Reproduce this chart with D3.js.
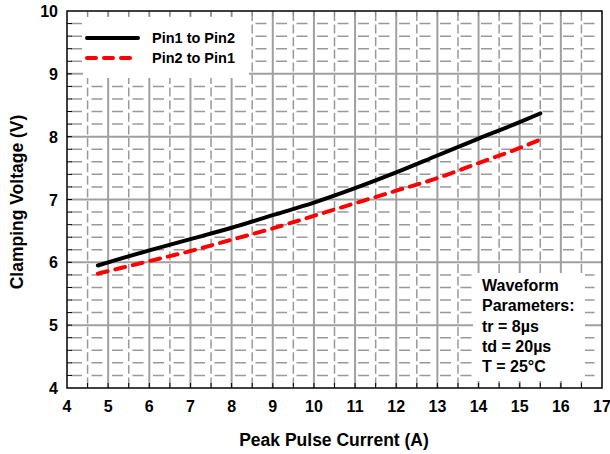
<!DOCTYPE html>
<html><head><meta charset="utf-8">
<script src="https://cdn.jsdelivr.net/npm/d3@7"></script>
<style>body{margin:0;background:#fff}svg{display:block}text{font-family:"Liberation Sans",Arial,sans-serif;font-weight:bold;fill:#000}</style>
</head><body>
<svg id="c" width="610" height="454"></svg>
<script>
const xTicks = [4,5,6,7,8,9,10,11,12,13,14,15,16,17];
const yTicks = [4,5,6,7,8,9,10];
const seriesNames = ["Pin1 to Pin2","Pin2 to Pin1"];
const currentA = [4.75,5,6,7,8,9,10,11,12,13,14,15,15.5];
const pin1to2 = [5.95,6.00,6.19,6.37,6.55,6.75,6.95,7.18,7.43,7.70,7.97,8.23,8.37];
const pin2to1X = [4.75,5,6,7,8,9,10,11,12,13,14,15,15.45];
const pin2to1 = [5.82,5.86,6.02,6.18,6.36,6.54,6.74,6.94,7.14,7.34,7.58,7.82,7.94];
const noteLines = ["Waveform","Parameters:","tr = 8\u00b5s","td = 20\u00b5s","T = 25\u00b0C"];
const xTitle = "Peak Pulse Current (A)";
const yTitle = "Clamping Voltage (V)";

const svg = d3.select("#c");
const L=67,R=602,T=11,B=388;
const x = d3.scaleLinear().domain([4,17]).range([L,R]);
const y = d3.scaleLinear().domain([4,10]).range([B,T]);

const g = svg.append("g");
// minor grid
const xMinor = d3.range(4.5,17,1);
const yMinor = d3.range(4,10.001,0.2).filter(v=>Math.abs(v-Math.round(v))>1e-6);
g.selectAll(".xm").data(xMinor).join("line")
  .attr("x1",d=>x(d)).attr("x2",d=>x(d)).attr("y1",T).attr("y2",B)
  .attr("stroke","#999").attr("stroke-width",1.5).attr("stroke-dasharray","9,3.6").attr("stroke-dashoffset",-1);
g.selectAll(".ym").data(yMinor).join("line")
  .attr("x1",L).attr("x2",R).attr("y1",d=>y(d)).attr("y2",d=>y(d))
  .attr("stroke","#999").attr("stroke-width",1.5).attr("stroke-dasharray","11,9.5").attr("stroke-dashoffset",-4);
// major grid
g.selectAll(".xg").data(xTicks.slice(1,-1)).join("line")
  .attr("x1",d=>x(d)).attr("x2",d=>x(d)).attr("y1",T).attr("y2",B)
  .attr("stroke","#a0a0a0").attr("stroke-width",2);
g.selectAll(".yg").data(yTicks.slice(1,-1)).join("line")
  .attr("x1",L).attr("x2",R).attr("y1",d=>y(d)).attr("y2",d=>y(d))
  .attr("stroke","#a0a0a0").attr("stroke-width",2);

// white boxes (legend + note)
svg.append("rect").attr("x",83).attr("y",17).attr("width",166).attr("height",61).attr("fill","#fff");
svg.append("rect").attr("x",473).attr("y",273).attr("width",112).attr("height",108).attr("fill","#fff");

// inward ticks
const xAll = d3.range(4.5,17,0.5);
svg.selectAll(".xt").data(xAll).join("line")
  .attr("x1",d=>x(d)).attr("x2",d=>x(d)).attr("y1",B).attr("y2",B-5)
  .attr("stroke","#000").attr("stroke-width",1);
svg.selectAll(".xtt").data(xAll).join("line")
  .attr("x1",d=>x(d)).attr("x2",d=>x(d)).attr("y1",T).attr("y2",T+5)
  .attr("stroke","#888").attr("stroke-width",1);
const yAll = d3.range(4.2,10,0.2);
svg.selectAll(".yt").data(yAll).join("line")
  .attr("x1",L).attr("x2",L+5).attr("y1",d=>y(d)).attr("y2",d=>y(d))
  .attr("stroke","#000").attr("stroke-width",1);

// frame
svg.append("rect").attr("x",L).attr("y",T).attr("width",R-L).attr("height",B-T)
  .attr("fill","none").attr("stroke","#000").attr("stroke-width",1.5);

// lines
const line = d3.line().x(d=>x(d[0])).y(d=>y(d[1])).curve(d3.curveMonotoneX);
svg.append("path").datum(currentA.map((v,i)=>[v,pin1to2[i]])).attr("d",line)
  .attr("fill","none").attr("stroke","#000").attr("stroke-width",4).attr("stroke-linecap","round");
svg.append("path").datum(pin2to1X.map((v,i)=>[v,pin2to1[i]])).attr("d",line)
  .attr("fill","none").attr("stroke","#ff0000").attr("stroke-width",4).attr("stroke-linecap","round")
  .attr("stroke-dasharray","10,8");

// axis labels
svg.selectAll(".xl").data(xTicks).join("text")
  .attr("x",d=>x(d)).attr("y",412).attr("text-anchor","middle").attr("font-size",16).text(d=>d);
svg.selectAll(".yl").data(yTicks).join("text")
  .attr("x",58).attr("y",d=>y(d)+6).attr("text-anchor","end").attr("font-size",16).text(d=>d);
svg.append("text").attr("x",334).attr("y",446).attr("text-anchor","middle").attr("font-size",17.5).text(xTitle);
svg.append("text").attr("transform","translate(23,202) rotate(-90)").attr("text-anchor","middle").attr("font-size",17.5).text(yTitle);

// legend
const lg = svg.append("g");
lg.append("line").attr("x1",87).attr("x2",138).attr("y1",38).attr("y2",38).attr("stroke","#000").attr("stroke-width",4).attr("stroke-linecap","round");
lg.append("line").attr("x1",87).attr("x2",132).attr("y1",58).attr("y2",58).attr("stroke","#ff0000").attr("stroke-width",4).attr("stroke-linecap","round").attr("stroke-dasharray","9,8");
lg.selectAll("text").data(seriesNames).join("text")
  .attr("x",152).attr("y",(d,i)=>43+i*20).attr("font-size",14.5).text(d=>d);

// note
svg.selectAll(".note").data(noteLines).join("text")
  .attr("x",482).attr("y",(d,i)=>291+i*20.3).attr("font-size",16).text(d=>d);
</script>
</body></html>
